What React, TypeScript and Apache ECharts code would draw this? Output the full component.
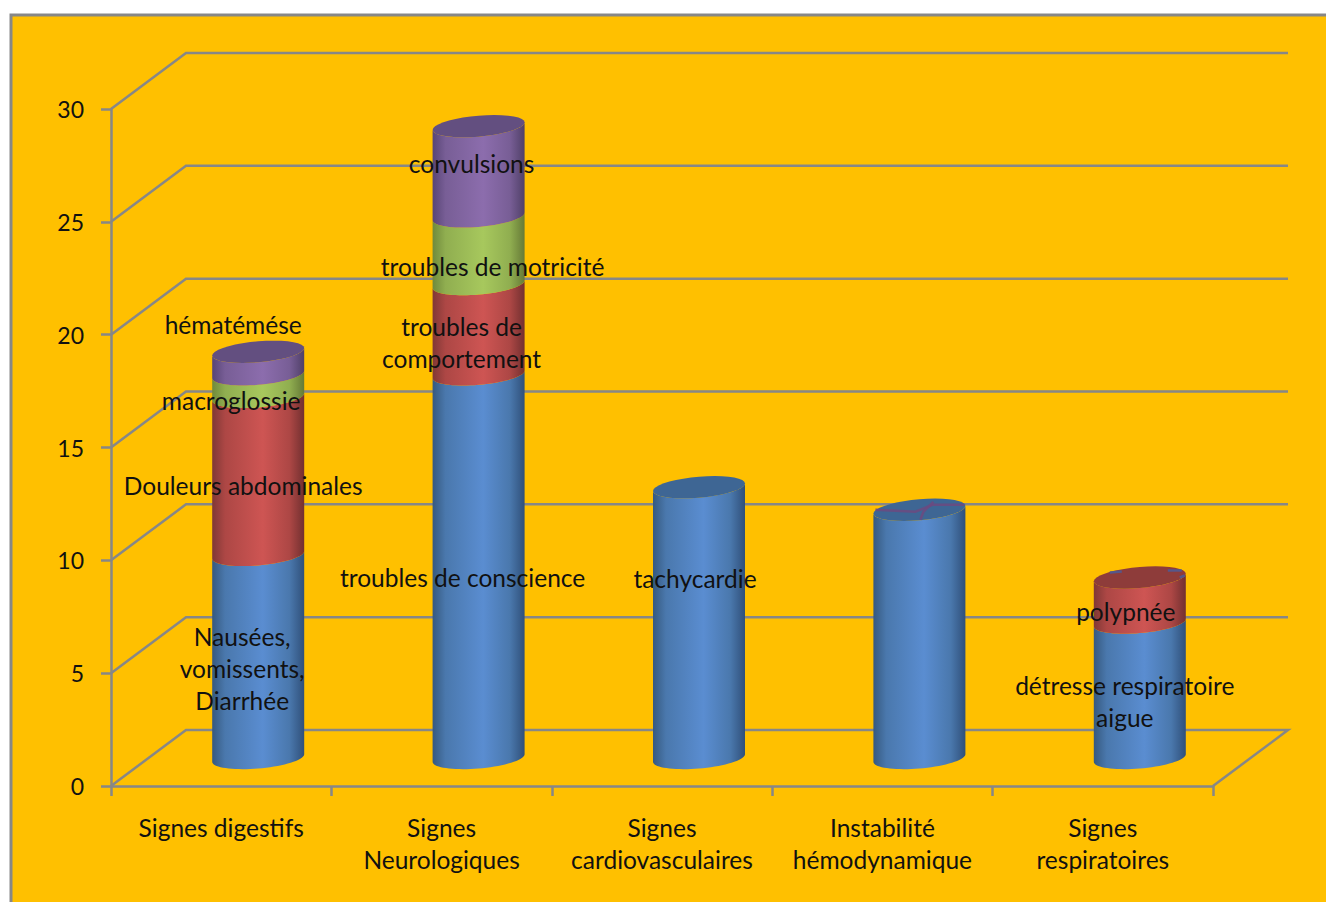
import React, { useEffect, useRef } from "react";
import * as echarts from "echarts";

// Chart values: number of cases per sign, stacked within each clinical group
const categories = [
  "Signes digestifs",
  "Signes\nNeurologiques",
  "Signes\ncardiovasculaires",
  "Instabilité\nhémodynamique",
  "Signes\nrespiratoires",
];
const firstSigns = [9, 17, 12, 11, 6];
const secondSigns = [7, 4, 0, 0, 2];
const thirdSigns = [1, 3, 0, 0, 0];
const fourthSigns = [1, 4, 0, 0, 0];
const yTicks = [0, 5, 10, 15, 20, 25, 30];

const firstLabels = [
  "Nausées,\nvomissents,\nDiarrhée",
  "troubles de conscience",
  "tachycardie",
  "",
  "détresse respiratoire\naigue",
];
const secondLabels = ["Douleurs abdominales", "troubles de\ncomportement", "", "", "polypnée"];
const thirdLabels = ["macroglossie", "troubles de motricité", "", "", ""];
const fourthLabels = ["hématémése", "convulsions", "", "", ""];

// Label nudges from the centre of their cylinder segment, in pixels
const firstNudges = [[-16, 12], [-16, 11], [-4, -44], [0, 0], [-15, 11]];
const secondNudges = [[-15, 10], [-17, 13], [0, 0], [0, 0], [-14, 11]];
const thirdNudges = [[-27, 15], [14, 16], [0, 0], [0, 0], [0, 0]];
const fourthNudges = [[-25, -39], [-7, -8], [0, 0], [0, 0], [0, 0]];

const GREY = "#878787";
const FAMILY = "Lato, 'Open Sans', sans-serif";
const FONT = `24.5px ${FAMILY}`;

// Oblique projection of the 3D floor
const WALL_DX = 75;
const WALL_DY = -56;
const MID_DX = 37;
const MID_DY = -28;

// Cylinder rim: half width, half height, tilt
const RIM_A = 46;
const RIM_B = 10.5;
const RIM_TILT = 3.8;

type Shade = { edgeL: string; soft: string; light: string; edgeR: string; lid: string };
const BLUE: Shade = { edgeL: "#36597f", soft: "#4a78ad", light: "#5a8dd1", edgeR: "#30507a", lid: "#3e6694" };
const RED: Shade = { edgeL: "#803836", soft: "#ad4745", light: "#ce5553", edgeR: "#733030", lid: "#8e3c3a" };
const GREEN: Shade = { edgeL: "#708a3c", soft: "#90ae50", light: "#a7c85d", edgeR: "#667a37", lid: "#7a9544" };
const PURPLE: Shade = { edgeL: "#584576", soft: "#785e96", light: "#8c6dad", edgeR: "#504068", lid: "#634f80" };

// Flecks on a lid where empty stacked layers show through, by category
const lidFlecks: Record<number, { color: string; lines: number[][][] }> = {
  3: {
    color: "#6c4a80",
    lines: [
      [[-44, 0], [-4, 2], [13, -5], [45, -5]],
      [[1, 10], [4, 2], [14, -8]],
    ],
  },
  4: {
    color: "#4c5c98",
    lines: [
      [[-30, -5], [-18, -6]],
      [[28, -7], [42, -7]],
      [[40, 0], [45, -2]],
    ],
  },
};

function rim(cx: number, cy: number, from: number, to: number) {
  const pts: number[][] = [];
  const steps = 36;
  for (let i = 0; i <= steps; i++) {
    const t = from + ((to - from) * i) / steps;
    pts.push([cx + RIM_A * Math.cos(t), cy + RIM_B * Math.sin(t) - RIM_TILT * Math.cos(t)]);
  }
  return pts;
}

function stackedSeries() {
  const layers = [
    { name: "signes 1", values: firstSigns, labels: firstLabels, nudges: firstNudges, shade: BLUE },
    { name: "signes 2", values: secondSigns, labels: secondLabels, nudges: secondNudges, shade: RED },
    { name: "signes 3", values: thirdSigns, labels: thirdLabels, nudges: thirdNudges, shade: GREEN },
    { name: "signes 4", values: fourthSigns, labels: fourthLabels, nudges: fourthNudges, shade: PURPLE },
  ];
  const running = categories.map(() => 0);
  const totals = categories.map((_, i) => layers.reduce((s, l) => s + l.values[i], 0));
  const textData: any[] = [];
  const textMeta: { text: string; nudge: number[] }[] = [];

  const bars = layers.map((layer, li) => {
    const data = layer.values.map((v, i) => {
      const row = [i, running[i], running[i] + v];
      running[i] += v;
      if (layer.labels[i]) {
        textData.push(row);
        textMeta.push({ text: layer.labels[i], nudge: layer.nudges[i] });
      }
      return row;
    });
    return {
      type: "custom",
      name: layer.name,
      silent: true,
      z: 10 + li,
      encode: { x: 0, y: [1, 2] },
      data,
      renderItem: (_p: any, api: any) => {
        const cat = api.value(0);
        const lo = api.value(1);
        const hi = api.value(2);
        if (hi <= lo) return null;
        const a = api.coord([cat, lo]);
        const b = api.coord([cat, hi]);
        const cx = a[0] + MID_DX;
        const yLo = a[1] + MID_DY;
        const yHi = b[1] + MID_DY;
        const s = layer.shade;
        const children: any[] = [
          {
            type: "polygon",
            shape: { points: [...rim(cx, yHi, 0, Math.PI), ...rim(cx, yLo, Math.PI, 0)] },
            style: {
              fill: new echarts.graphic.LinearGradient(0, 0, 1, 0, [
                { offset: 0, color: s.edgeL },
                { offset: 0.14, color: s.soft },
                { offset: 0.55, color: s.light },
                { offset: 0.84, color: s.soft },
                { offset: 1, color: s.edgeR },
              ]),
            },
          },
        ];
        if (hi === totals[cat]) {
          children.push({
            type: "polygon",
            shape: { points: rim(cx, yHi, 0, Math.PI * 2) },
            style: { fill: s.lid },
          });
          const flecks = lidFlecks[cat];
          if (flecks) {
            flecks.lines.forEach((line) => {
              children.push({
                type: "polyline",
                shape: { points: line.map(([dx, dy]) => [cx + dx, yHi + dy]) },
                style: { stroke: flecks.color, lineWidth: 2.5, fill: "none", opacity: 0.85 },
              });
            });
          }
        }
        return { type: "group", children };
      },
    };
  });

  const texts = {
    type: "custom",
    name: "libellés",
    silent: true,
    z: 30,
    encode: { x: 0, y: [1, 2] },
    data: textData,
    renderItem: (p: any, api: any) => {
      const meta = textMeta[p.dataIndex];
      const c = api.coord([api.value(0), (api.value(1) + api.value(2)) / 2]);
      return {
        type: "text",
        style: {
          x: c[0] + MID_DX + meta.nudge[0],
          y: c[1] + MID_DY + meta.nudge[1],
          text: meta.text,
          fill: "#111",
          font: FONT,
          lineHeight: 32,
          align: "center",
          verticalAlign: "middle",
        },
      };
    },
  };
  return [...bars, texts];
}

// Side wall, back wall and floor rules, one per value tick
const wallRules = {
  type: "custom",
  name: "parois",
  silent: true,
  z: 2,
  encode: { y: 1 },
  data: yTicks.map((t) => [0, t]),
  renderItem: (p: any, api: any) => {
    const y = api.coord([0, api.value(1)])[1];
    const left = p.coordSys.x;
    const right = left + p.coordSys.width;
    const stroke = { stroke: GREY, lineWidth: 2.5, fill: "none" };
    const points = [
      [left, y],
      [left + WALL_DX, y + WALL_DY],
      [right + WALL_DX, y + WALL_DY],
    ];
    if (api.value(1) === 0) points.push([right, y]);
    return { type: "polyline", shape: { points }, style: stroke };
  },
};

const option = {
  animation: false,
  backgroundColor: "#ffffff",
  tooltip: { show: false },
  legend: { show: false },
  graphic: [
    {
      type: "rect",
      z: -10,
      silent: true,
      shape: { x: 11, y: 15, width: 1400, height: 1000 },
      style: { fill: "#FFC000", stroke: GREY, lineWidth: 3 },
    },
  ],
  grid: { left: 111, top: 109, width: 1102, height: 677, containLabel: false },
  xAxis: {
    type: "category",
    data: categories,
    axisLine: { lineStyle: { color: GREY, width: 2.5 } },
    axisTick: { show: true, length: 10, lineStyle: { color: GREY, width: 2.5 } },
    axisLabel: {
      color: "#111",
      fontFamily: FAMILY,
      fontSize: 24.5,
      lineHeight: 32,
      margin: 25,
      interval: 0,
    },
    splitLine: { show: false },
  },
  yAxis: {
    type: "value",
    min: 0,
    max: 30,
    interval: 5,
    axisLine: { show: true, lineStyle: { color: GREY, width: 2.5 } },
    axisTick: { show: true, length: 10, lineStyle: { color: GREY, width: 2.5 } },
    axisLabel: {
      color: "#111",
      fontFamily: FAMILY,
      fontSize: 23,
      margin: 27,
    },
    splitLine: { show: false },
  },
  series: [wallRules, ...stackedSeries()],
};

export default function App() {
  const ref = useRef<HTMLDivElement>(null);
  useEffect(() => {
    document.body.style.margin = "0";
    const chart = echarts.init(ref.current!, undefined, { renderer: "svg" });
    chart.setOption(option as any);
    return () => chart.dispose();
  }, []);
  return <div ref={ref} style={{ width: 1326, height: 902 }} />;
}
